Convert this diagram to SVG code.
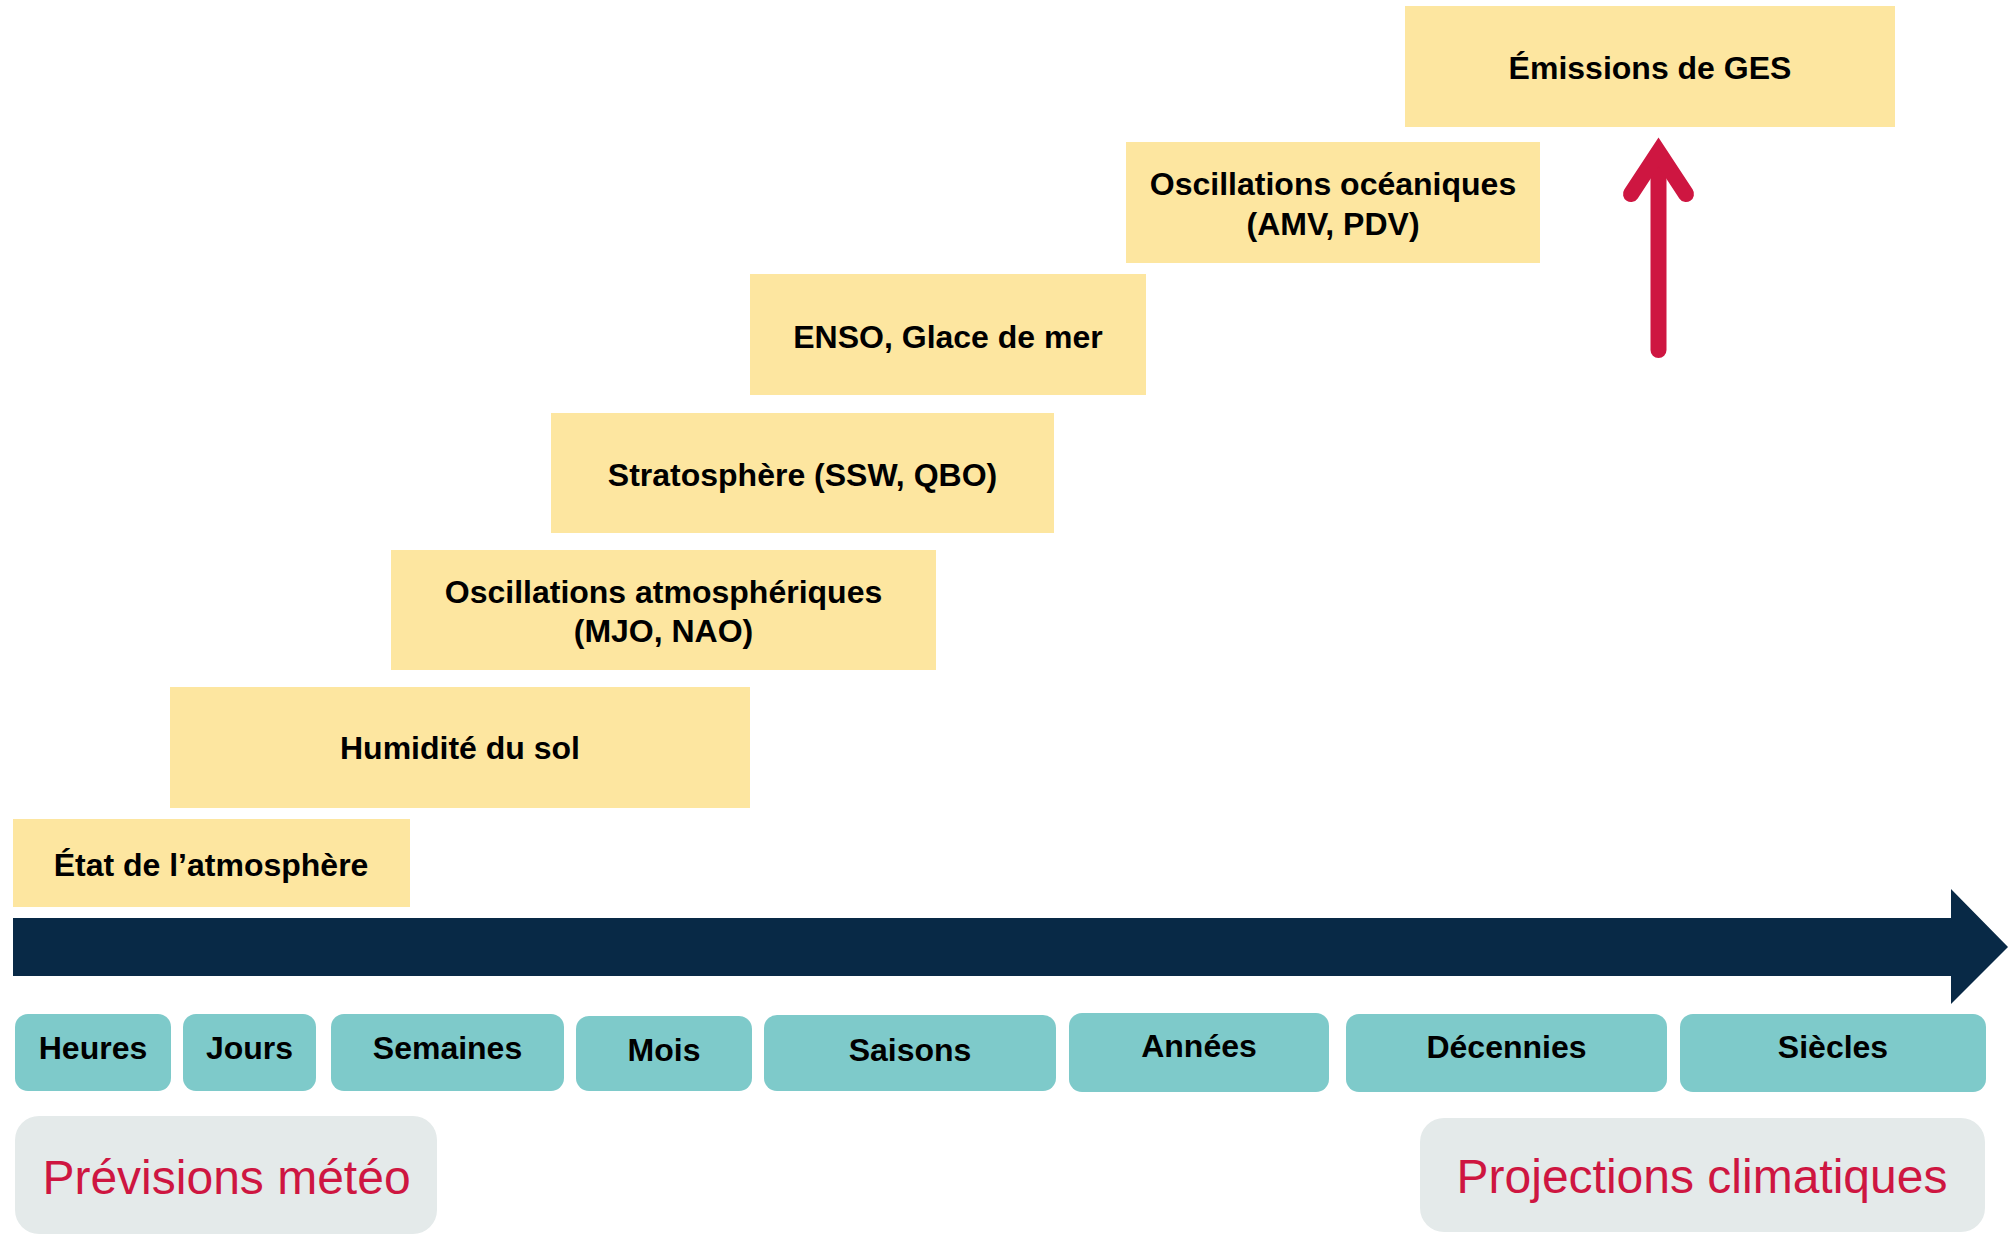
<svg xmlns="http://www.w3.org/2000/svg" width="2012" height="1239" viewBox="0 0 2012 1239">
<style>
.factor{fill:#FDE6A0}
.tile{fill:#7ECACA}
.mode{fill:#E4EAEA}
.lbl{font-family:"Liberation Sans",Arial,sans-serif;font-weight:bold;font-size:32px;fill:#000;text-anchor:middle}
.big{font-family:"Liberation Sans",Arial,sans-serif;font-size:48px;fill:#CE1641;text-anchor:middle}
</style>
<rect width="2012" height="1239" fill="#fff"/>
<g id="connectors">
<path id="timeline" d="M13 918 H1951 V889 L2008 947 L1951 1004 V976 H13 Z" fill="#082946"/>
<g id="red-arrow" fill="none" stroke="#CE1641" stroke-width="16">
<line x1="1658.5" y1="350" x2="1658.5" y2="160" stroke-linecap="round"/>
<polyline points="1631,194 1658.5,152 1686,194" stroke-linecap="round" stroke-linejoin="miter" stroke-miterlimit="10"/>
</g>
</g>
<g id="ges"><rect class="factor" x="1405" y="6" width="490" height="121"/><text class="lbl" x="1650" y="79">Émissions de GES</text></g>
<g id="ocean"><rect class="factor" x="1126" y="142" width="414" height="121"/><text class="lbl" x="1333" y="195">Oscillations océaniques</text><text class="lbl" x="1333" y="235">(AMV, PDV)</text></g>
<g id="enso"><rect class="factor" x="750" y="274" width="396" height="121"/><text class="lbl" x="948" y="348">ENSO, Glace de mer</text></g>
<g id="strato"><rect class="factor" x="551" y="413" width="503" height="120"/><text class="lbl" x="802.5" y="486">Stratosphère (SSW, QBO)</text></g>
<g id="atmosc"><rect class="factor" x="391" y="550" width="545" height="120"/><text class="lbl" x="663.5" y="603">Oscillations atmosphériques</text><text class="lbl" x="663.5" y="642">(MJO, NAO)</text></g>
<g id="sol"><rect class="factor" x="170" y="687" width="580" height="121"/><text class="lbl" x="460" y="759">Humidité du sol</text></g>
<g id="etat"><rect class="factor" x="13" y="819" width="397" height="88"/><text class="lbl" x="211" y="876">État de l’atmosphère</text></g>
<g id="heures"><rect class="tile" x="15" y="1014" width="156" height="77" rx="13"/><text class="lbl" x="93" y="1059">Heures</text></g>
<g id="jours"><rect class="tile" x="183" y="1014" width="133" height="77" rx="13"/><text class="lbl" x="249.5" y="1059">Jours</text></g>
<g id="semaines"><rect class="tile" x="331" y="1014" width="233" height="77" rx="13"/><text class="lbl" x="447.5" y="1059">Semaines</text></g>
<g id="mois"><rect class="tile" x="576" y="1016" width="176" height="75" rx="13"/><text class="lbl" x="664" y="1061">Mois</text></g>
<g id="saisons"><rect class="tile" x="764" y="1015" width="292" height="76" rx="13"/><text class="lbl" x="910" y="1061">Saisons</text></g>
<g id="annees"><rect class="tile" x="1069" y="1013" width="260" height="79" rx="13"/><text class="lbl" x="1199" y="1057">Années</text></g>
<g id="decennies"><rect class="tile" x="1346" y="1014" width="321" height="78" rx="13"/><text class="lbl" x="1506.5" y="1058">Décennies</text></g>
<g id="siecles"><rect class="tile" x="1680" y="1014" width="306" height="78" rx="13"/><text class="lbl" x="1833" y="1058">Siècles</text></g>
<g id="previsions"><rect class="mode" x="15" y="1116" width="422" height="118" rx="24"/><text class="big" x="226.5" y="1194">Prévisions météo</text></g>
<g id="projections"><rect class="mode" x="1420" y="1118" width="565" height="114" rx="24"/><text class="big" x="1702" y="1193">Projections climatiques</text></g>
</svg>
